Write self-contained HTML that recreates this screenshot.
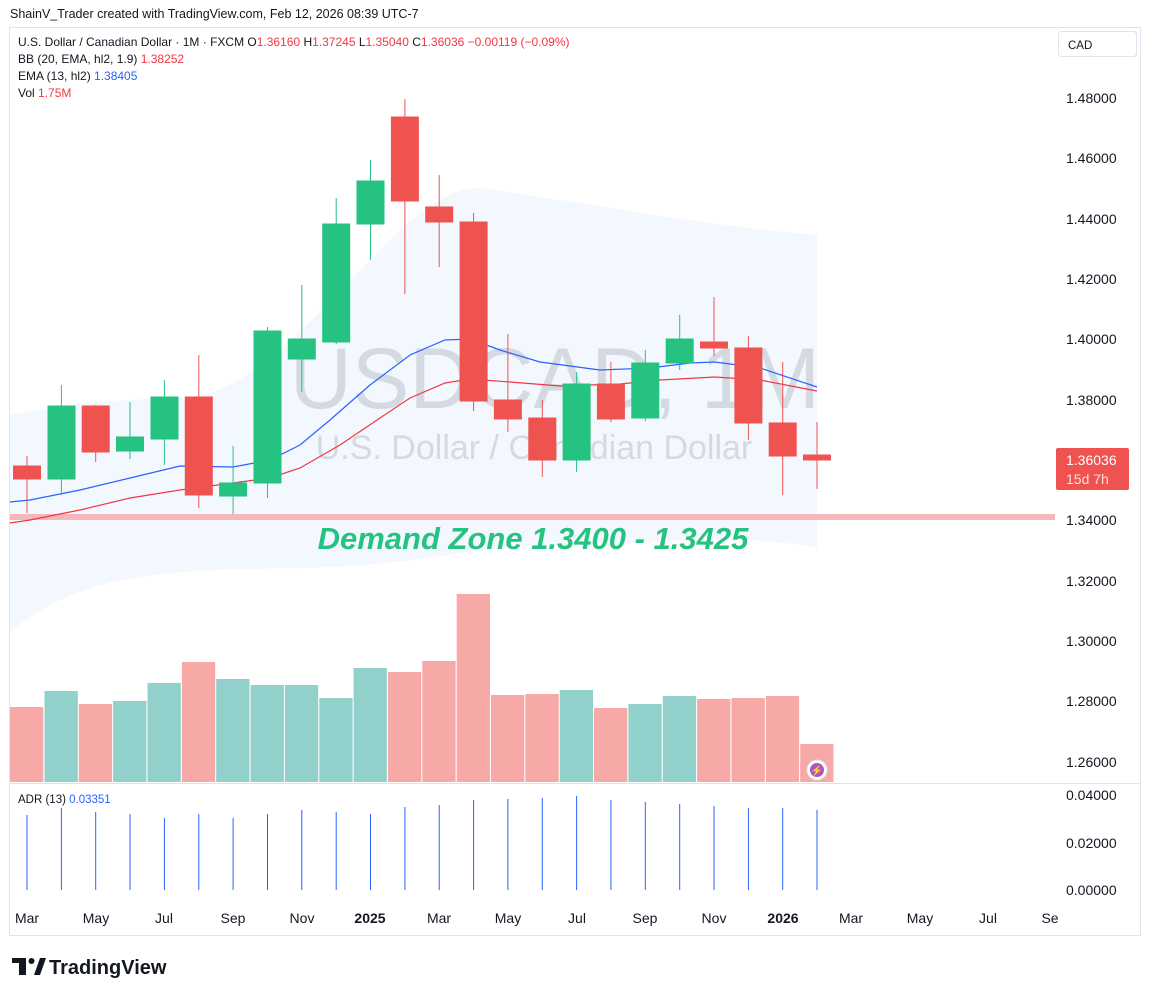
<!DOCTYPE html>
<html><head><meta charset="utf-8"><style>
body{margin:0;background:#fff;width:1151px;height:996px;overflow:hidden;font-family:"Liberation Sans",sans-serif}
svg text{font-family:"Liberation Sans",sans-serif}
</style></head><body>
<svg width="1151" height="996" xmlns="http://www.w3.org/2000/svg">
<rect width="1151" height="996" fill="#fff"/>
<text x="10" y="18" font-size="12.5" fill="#131722">ShainV_Trader created with TradingView.com, Feb 12, 2026 08:39 UTC-7</text>
<rect x="9.5" y="27.5" width="1131" height="908" fill="none" stroke="#e0e3eb"/>
<path d="M10,415 C60,405 100,400 180,398 C250,395 300,330 400,230 C440,195 460,188 480,188 C600,205 700,225 817,235 L817,548 C720,530 650,545 560,545 C470,545 430,565 300,568 C150,570 80,575 10,632 Z" fill="#eef5fd" opacity="0.75"/>
<text x="555" y="408" font-size="86" fill="#d1d4dc" text-anchor="middle" opacity="0.85">USDCAD, 1M</text>
<text x="534" y="459" font-size="34" fill="#d1d4dc" text-anchor="middle" opacity="0.85">U.S. Dollar / Canadian Dollar</text>
<rect x="10" y="514" width="1045" height="6" fill="#f5b7b9"/>
<text x="533" y="549" font-size="31" font-weight="bold" font-style="italic" fill="#26c281" text-anchor="middle">Demand Zone 1.3400 - 1.3425</text>
<polyline fill="none" stroke="#2962ff" stroke-width="1.2" points="10,502 30,500 80,490 130,478 180,466 233,467 270,460 300,445 330,420 370,385 410,355 445,340 470,339 500,350 540,362 600,370 650,368 690,363 715,362 760,368 817,387"/>
<polyline fill="none" stroke="#f23645" stroke-width="1.2" points="10,523 30,520 80,510 130,498 180,490 233,483 270,478 300,468 340,445 380,418 410,398 445,383 470,379 510,382 560,386 620,384 660,380 715,377 760,380 817,391"/>
<g>
<g fill="#ef5350" stroke="#ef5350"><line x1="27" y1="456" x2="27" y2="513"/><rect x="13.5" y="466" width="27" height="13"/></g>
<g fill="#26c281" stroke="#26c281"><line x1="61.4" y1="385" x2="61.4" y2="495"/><rect x="48" y="406" width="27" height="73"/></g>
<g fill="#ef5350" stroke="#ef5350"><line x1="95.7" y1="405" x2="95.7" y2="462"/><rect x="82.2" y="406" width="27" height="46"/></g>
<g fill="#26c281" stroke="#26c281"><line x1="130" y1="402" x2="130" y2="459"/><rect x="116.5" y="437" width="27" height="14"/></g>
<g fill="#26c281" stroke="#26c281"><line x1="164.4" y1="380" x2="164.4" y2="465"/><rect x="151" y="397" width="27" height="42"/></g>
<g fill="#ef5350" stroke="#ef5350"><line x1="198.8" y1="355" x2="198.8" y2="508"/><rect x="185.3" y="397" width="27" height="98"/></g>
<g fill="#26c281" stroke="#26c281"><line x1="233.1" y1="446" x2="233.1" y2="514"/><rect x="219.6" y="483" width="27" height="13"/></g>
<g fill="#26c281" stroke="#26c281"><line x1="267.5" y1="327" x2="267.5" y2="498"/><rect x="254" y="331" width="27" height="152"/></g>
<g fill="#26c281" stroke="#26c281"><line x1="301.8" y1="285" x2="301.8" y2="392"/><rect x="288.3" y="339" width="27" height="20"/></g>
<g fill="#26c281" stroke="#26c281"><line x1="336.2" y1="198" x2="336.2" y2="344"/><rect x="322.7" y="224" width="27" height="118"/></g>
<g fill="#26c281" stroke="#26c281"><line x1="370.5" y1="160" x2="370.5" y2="260"/><rect x="357" y="181" width="27" height="43"/></g>
<g fill="#ef5350" stroke="#ef5350"><line x1="404.9" y1="99" x2="404.9" y2="294"/><rect x="391.4" y="117" width="27" height="84"/></g>
<g fill="#ef5350" stroke="#ef5350"><line x1="439.2" y1="175" x2="439.2" y2="267"/><rect x="425.7" y="207" width="27" height="15"/></g>
<g fill="#ef5350" stroke="#ef5350"><line x1="473.6" y1="213" x2="473.6" y2="411"/><rect x="460.1" y="222" width="27" height="179"/></g>
<g fill="#ef5350" stroke="#ef5350"><line x1="507.9" y1="334" x2="507.9" y2="432"/><rect x="494.4" y="400" width="27" height="19"/></g>
<g fill="#ef5350" stroke="#ef5350"><line x1="542.3" y1="400" x2="542.3" y2="477"/><rect x="528.8" y="418" width="27" height="42"/></g>
<g fill="#26c281" stroke="#26c281"><line x1="576.6" y1="372" x2="576.6" y2="472"/><rect x="563.1" y="384" width="27" height="76"/></g>
<g fill="#ef5350" stroke="#ef5350"><line x1="610.9" y1="362" x2="610.9" y2="422"/><rect x="597.4" y="384" width="27" height="35"/></g>
<g fill="#26c281" stroke="#26c281"><line x1="645.3" y1="350" x2="645.3" y2="421"/><rect x="631.8" y="363" width="27" height="55"/></g>
<g fill="#26c281" stroke="#26c281"><line x1="679.7" y1="315" x2="679.7" y2="370"/><rect x="666.2" y="339" width="27" height="24"/></g>
<g fill="#ef5350" stroke="#ef5350"><line x1="714" y1="297" x2="714" y2="356"/><rect x="700.5" y="342" width="27" height="6"/></g>
<g fill="#ef5350" stroke="#ef5350"><line x1="748.4" y1="336" x2="748.4" y2="440"/><rect x="734.9" y="348" width="27" height="75"/></g>
<g fill="#ef5350" stroke="#ef5350"><line x1="782.7" y1="362" x2="782.7" y2="495"/><rect x="769.2" y="423" width="27" height="33"/></g>
<g fill="#ef5350" stroke="#ef5350"><line x1="817" y1="422" x2="817" y2="489"/><rect x="803.5" y="455" width="27" height="5"/></g>
</g>
<g>
<rect x="10" y="707" width="33.3" height="75" fill="#f7a9a7"/>
<rect x="44.5" y="691" width="33.3" height="91" fill="#92d1cb"/>
<rect x="78.8" y="704" width="33.3" height="78" fill="#f7a9a7"/>
<rect x="113.1" y="701" width="33.3" height="81" fill="#92d1cb"/>
<rect x="147.5" y="683" width="33.3" height="99" fill="#92d1cb"/>
<rect x="181.9" y="662" width="33.3" height="120" fill="#f7a9a7"/>
<rect x="216.2" y="679" width="33.3" height="103" fill="#92d1cb"/>
<rect x="250.6" y="685" width="33.3" height="97" fill="#92d1cb"/>
<rect x="284.9" y="685" width="33.3" height="97" fill="#92d1cb"/>
<rect x="319.3" y="698" width="33.3" height="84" fill="#92d1cb"/>
<rect x="353.6" y="668" width="33.3" height="114" fill="#92d1cb"/>
<rect x="388" y="672" width="33.3" height="110" fill="#f7a9a7"/>
<rect x="422.3" y="661" width="33.3" height="121" fill="#f7a9a7"/>
<rect x="456.7" y="594" width="33.3" height="188" fill="#f7a9a7"/>
<rect x="491" y="695" width="33.3" height="87" fill="#f7a9a7"/>
<rect x="525.4" y="694" width="33.3" height="88" fill="#f7a9a7"/>
<rect x="559.7" y="690" width="33.3" height="92" fill="#92d1cb"/>
<rect x="594" y="708" width="33.3" height="74" fill="#f7a9a7"/>
<rect x="628.4" y="704" width="33.3" height="78" fill="#92d1cb"/>
<rect x="662.8" y="696" width="33.3" height="86" fill="#92d1cb"/>
<rect x="697.1" y="699" width="33.3" height="83" fill="#f7a9a7"/>
<rect x="731.5" y="698" width="33.3" height="84" fill="#f7a9a7"/>
<rect x="765.8" y="696" width="33.3" height="86" fill="#f7a9a7"/>
<rect x="800.2" y="744" width="33.3" height="38" fill="#f7a9a7"/>
</g>
<circle cx="817" cy="770" r="10" fill="#fff" stroke="#e0e3eb"/>
<circle cx="817" cy="770" r="7" fill="#9c27b0" opacity="0.8"/>
<text x="817" y="774" font-size="10" fill="#fff" text-anchor="middle">⚡</text>
<line x1="10" y1="783.5" x2="1140" y2="783.5" stroke="#e0e3eb"/>
<text x="18" y="803" font-size="11.5" fill="#131722">ADR (13) <tspan fill="#2962ff">0.03351</tspan></text>
<g stroke="#2962ff" stroke-width="1">
<line x1="27" y1="815" x2="27" y2="890"/><line x1="61.4" y1="808" x2="61.4" y2="890"/><line x1="95.7" y1="812" x2="95.7" y2="890"/><line x1="130" y1="814" x2="130" y2="890"/><line x1="164.4" y1="818" x2="164.4" y2="890"/><line x1="198.8" y1="814" x2="198.8" y2="890"/><line x1="233.1" y1="818" x2="233.1" y2="890"/><line x1="267.5" y1="814" x2="267.5" y2="890"/><line x1="301.8" y1="810" x2="301.8" y2="890"/><line x1="336.2" y1="812" x2="336.2" y2="890"/><line x1="370.5" y1="814" x2="370.5" y2="890"/><line x1="404.9" y1="807" x2="404.9" y2="890"/><line x1="439.2" y1="805" x2="439.2" y2="890"/><line x1="473.6" y1="800" x2="473.6" y2="890"/><line x1="507.9" y1="799" x2="507.9" y2="890"/><line x1="542.3" y1="798" x2="542.3" y2="890"/><line x1="576.6" y1="796" x2="576.6" y2="890"/><line x1="610.9" y1="800" x2="610.9" y2="890"/><line x1="645.3" y1="802" x2="645.3" y2="890"/><line x1="679.7" y1="804" x2="679.7" y2="890"/><line x1="714" y1="806" x2="714" y2="890"/><line x1="748.4" y1="808" x2="748.4" y2="890"/><line x1="782.7" y1="808" x2="782.7" y2="890"/><line x1="817" y1="810" x2="817" y2="890"/>
</g>
<g font-size="12" fill="#131722">
<text x="18" y="46">U.S. Dollar / Canadian Dollar · 1M · FXCM  O<tspan fill="#f23645">1.36160</tspan>  H<tspan fill="#f23645">1.37245</tspan>  L<tspan fill="#f23645">1.35040</tspan>  C<tspan fill="#f23645">1.36036  −0.00119 (−0.09%)</tspan></text>
<text x="18" y="63">BB (20, EMA, hl2, 1.9)  <tspan fill="#f23645">1.38252</tspan></text>
<text x="18" y="80">EMA (13, hl2)  <tspan fill="#2962ff">1.38405</tspan></text>
<text x="18" y="97">Vol  <tspan fill="#f23645">1.75M</tspan></text>
</g>
<rect x="1058.5" y="31.5" width="78" height="25" rx="3" fill="#fff" stroke="#e0e3eb"/>
<text x="1068" y="49" font-size="11.5" fill="#131722">CAD</text>
<g font-size="14" fill="#131722">
<text x="1066" y="103">1.48000</text><text x="1066" y="163">1.46000</text><text x="1066" y="224">1.44000</text><text x="1066" y="284">1.42000</text><text x="1066" y="344">1.40000</text><text x="1066" y="405">1.38000</text><text x="1066" y="525">1.34000</text><text x="1066" y="586">1.32000</text><text x="1066" y="646">1.30000</text><text x="1066" y="706">1.28000</text><text x="1066" y="767">1.26000</text>
<text x="1066" y="800">0.04000</text><text x="1066" y="848">0.02000</text><text x="1066" y="895">0.00000</text>
</g>
<rect x="1056" y="448" width="73" height="42" rx="2" fill="#ef5350"/>
<text x="1066" y="465" font-size="14" fill="#fff">1.36036</text>
<text x="1066" y="484" font-size="14" fill="#ffdcdc">15d 7h</text>
<g font-size="14" fill="#131722" text-anchor="middle">
<text x="27" y="923">Mar</text><text x="96" y="923">May</text><text x="164" y="923">Jul</text><text x="233" y="923">Sep</text><text x="302" y="923">Nov</text><text x="370" y="923" font-weight="bold">2025</text><text x="439" y="923">Mar</text><text x="508" y="923">May</text><text x="577" y="923">Jul</text><text x="645" y="923">Sep</text><text x="714" y="923">Nov</text><text x="783" y="923" font-weight="bold">2026</text><text x="851" y="923">Mar</text><text x="920" y="923">May</text><text x="988" y="923">Jul</text><text x="1050" y="923">Se</text>
</g>
<rect x="12" y="958" width="14" height="5" fill="#131722"/><rect x="19" y="958" width="7" height="17" fill="#131722"/><circle cx="31.5" cy="961" r="3" fill="#131722"/><path d="M34,975 L40,958 L46,958 L40,975 Z" fill="#131722"/>
<text x="49" y="974" font-size="20" font-weight="bold" fill="#131722">TradingView</text>
</svg>
</body></html>
